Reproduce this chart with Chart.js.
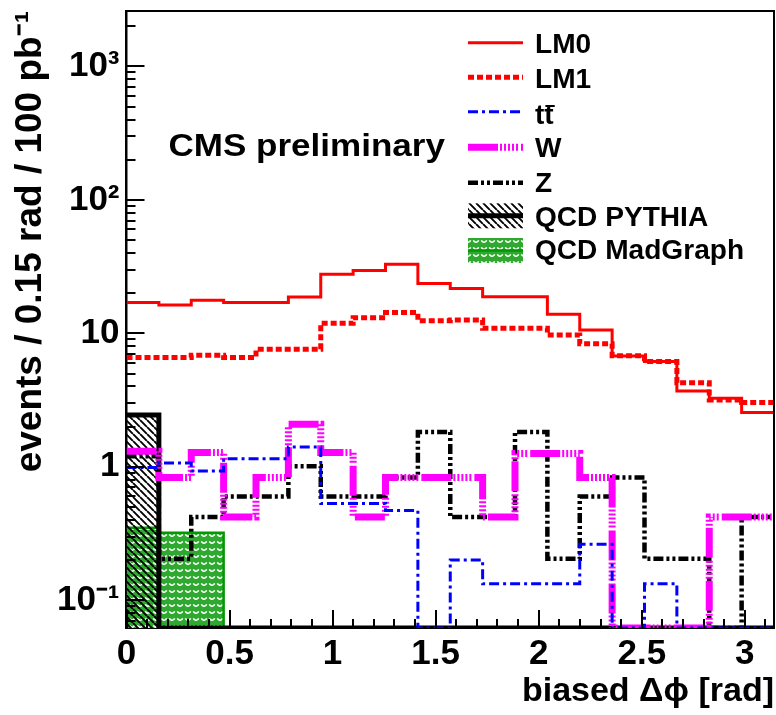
<!DOCTYPE html>
<html>
<head>
<meta charset="utf-8">
<script src="https://cdn.jsdelivr.net/npm/chart.js@4.4.1/dist/chart.umd.min.js"></script>
<style>
html,body{margin:0;padding:0;background:#fff;}
#wrap{width:776px;height:715px;position:relative;}
</style>
</head>
<body>
<div id="wrap"><canvas id="c"></canvas></div>
<script>
// ---------------- data (20 bins of pi/20 rad from 0 to pi) ----------------
const X_MAX = Math.PI;
const lm0       = [17.0, 16.3, 17.7, 17.0, 17.0, 18.7, 27.7, 29.6, 32.9, 23.6, 21.7, 18.8, 18.8, 13.9, 10.6, 6.76, 6.14, 3.70, 3.26, 2.55];
const lm1       = [6.58, 6.58, 6.84, 6.58, 7.59, 7.59, 11.9, 13.1, 14.3, 12.4, 12.6, 10.9, 10.9, 9.71, 8.37, 6.80, 6.14, 4.27, 3.16, 3.03];
const ttbar     = [0.99, 1.07, 0.93, 1.15, 1.15, 1.41, 0.53, 0.53, 0.47, 0, 0.20, 0.133, 0.133, 0.133, 0.263, 0, 0.133, 0, 0, 0];
const wjets     = [1.31, 0.83, 1.28, 0.42, 0.83, 2.08, 1.28, 0.42, 0.83, 0.83, 0.83, 0.42, 1.26, 1.26, 0.83, 0, 0, 0, 0.42, 0.42];
const zjets     = [1.20, 0.205, 0.42, 0.60, 0.60, 1.01, 0.60, 0.60, 0.83, 1.82, 0.42, 0.42, 1.82, 0.205, 0.60, 0.83, 0.205, 0.205, 0, 0.42];
const qcdPythia = [2.44, 0, 0, 0, 0, 0, 0, 0, 0, 0, 0, 0, 0, 0, 0, 0, 0, 0, 0, 0];
const qcdMadgr  = [0.35, 0.32, 0.32, 0, 0, 0, 0, 0, 0, 0, 0, 0, 0, 0, 0, 0, 0, 0, 0, 0];

const seriesNames = ['LM0', 'LM1', 'tt', 'W', 'Z', 'QCD PYTHIA', 'QCD MadGraph'];
const xTickValues = [0, 0.5, 1, 1.5, 2, 2.5, 3];
const xTickLabels = ['0', '0.5', '1', '1.5', '2', '2.5', '3'];
const yTickValues = [0.1, 1, 10, 100, 1000];
const yTickLabels = ['10\u207B\u00B9', '1', '10', '10\u00B2', '10\u00B3'];
const Y_MIN = 0.062, Y_MAX = 2600;

// ---------------- helpers ----------------
const FONT = "'Liberation Sans', Arial, Helvetica, sans-serif";
function steps(vals) {
  const w = X_MAX / vals.length;
  const pts = vals.map((v, i) => ({x: i * w, y: v > 0 ? v : Y_MIN}));
  pts.push({x: X_MAX, y: pts[pts.length - 1].y});
  return pts;
}
function hatchPattern() {
  const c = document.createElement('canvas'); c.width = 7; c.height = 7;
  const g = c.getContext('2d');
  g.strokeStyle = '#000'; g.lineWidth = 1.9;
  g.beginPath();
  for (const k of [-7, 0, 7]) { g.moveTo(k, 0); g.lineTo(k + 7, 7); }
  g.stroke();
  return g.createPattern(c, 'repeat');
}
function scallopPattern() {
  const c = document.createElement('canvas'); c.width = 8; c.height = 7;
  const g = c.getContext('2d');
  g.fillStyle = '#2ea82e'; g.fillRect(0, 0, 8, 7);
  g.strokeStyle = '#ffffff'; g.lineWidth = 1.5;
  g.beginPath(); g.arc(4, 1.5, 2.7, 0.1 * Math.PI, 0.9 * Math.PI); g.stroke();
  return g.createPattern(c, 'repeat');
}
const hatch = hatchPattern();
const scallop = scallopPattern();

const common = {stepped: 'before', pointRadius: 0, pointHoverRadius: 0, tension: 0,
  borderCapStyle: 'butt', borderJoinStyle: 'miter', fill: false};
const datasets = [
  Object.assign({}, common, {label: seriesNames[0], data: steps(lm0), borderColor: '#ff0000', borderWidth: 3, borderDash: []}),
  Object.assign({}, common, {label: seriesNames[1], data: steps(lm1), borderColor: '#ff0000', borderWidth: 5, borderDash: [6, 3]}),
  Object.assign({}, common, {label: seriesNames[2], data: steps(ttbar), borderColor: '#0000ff', borderWidth: 3, borderDash: [10, 4, 3, 4]}),
  Object.assign({}, common, {label: seriesNames[3], data: steps(wjets), borderColor: '#ff00ff', borderWidth: 7, borderDash: [30, 2, 2, 2, 2, 2, 2, 2, 2, 2, 2, 3]}),
  Object.assign({}, common, {label: seriesNames[4], data: steps(zjets), borderColor: '#000000', borderWidth: 4.5, borderDash: [10, 3, 3, 3, 3, 3]}),
  Object.assign({}, common, {label: seriesNames[5], data: steps(qcdPythia), borderColor: '#000000', borderWidth: 5, borderDash: [], backgroundColor: hatch, fill: 'start'}),
  Object.assign({}, common, {label: seriesNames[6], data: steps(qcdMadgr), borderColor: '#009900', borderWidth: 2.5, borderDash: [], backgroundColor: scallop, fill: 'start'})
];

// ---------------- decorations: inner ticks, frame, text, legend ----------------
const decor = {
  id: 'decor',
  afterDraw(chart) {
    const {ctx, chartArea: a, scales: {x, y}} = chart;
    ctx.save();
    ctx.strokeStyle = '#000'; ctx.lineWidth = 2; ctx.setLineDash([]);
    ctx.beginPath();
    ctx.moveTo(a.left, a.top); ctx.lineTo(a.right, a.top); ctx.lineTo(a.right, a.bottom);
    ctx.stroke();
    ctx.beginPath();
    for (let e = Math.floor(Math.log10(y.min)); e <= Math.ceil(Math.log10(y.max)); e++) {
      for (let m = 1; m <= 9; m++) {
        const v = m * Math.pow(10, e);
        if (v < y.min || v > y.max) continue;
        const py = Math.round(y.getPixelForValue(v));
        const len = m === 1 ? 18 : 9;
        ctx.moveTo(a.left, py); ctx.lineTo(a.left + len, py);
      }
    }
    for (let k = 0; k * 0.1 <= x.max + 1e-9; k++) {
      const px = Math.round(x.getPixelForValue(k * 0.1));
      const len = k % 5 === 0 ? 18 : 9;
      ctx.moveTo(px, a.bottom); ctx.lineTo(px, a.bottom - len);
    }
    ctx.stroke();

    ctx.fillStyle = '#000';
    ctx.textBaseline = 'middle'; ctx.textAlign = 'left';
    ctx.save();
    ctx.translate(168.5, 147.5); ctx.scale(1.13, 1);
    ctx.font = 'bold 31px ' + FONT;
    ctx.fillText('CMS preliminary', 0, 0);
    ctx.restore();

    const lineY = [42.7, 77.3, 111.7, 147.3, 182.7, 215.8, 250.5];
    const textY = [45.8, 81, 117, 150, 185, 219, 251.7];
    const x0 = 468, x1 = 523, tx = 535;
    chart.data.datasets.forEach((ds, i) => {
      if (ds.fill === 'start') {
        ctx.fillStyle = ds.backgroundColor;
        ctx.fillRect(x0, lineY[i] - 12.5, x1 - x0, 25);
      }
      ctx.setLineDash(ds.borderDash || []);
      ctx.lineWidth = ds.borderWidth; ctx.strokeStyle = ds.borderColor; ctx.lineCap = 'butt';
      ctx.beginPath(); ctx.moveTo(x0, lineY[i]); ctx.lineTo(x1, lineY[i]); ctx.stroke();
      ctx.setLineDash([]);
      ctx.fillStyle = '#000';
      ctx.font = 'bold 27px ' + FONT;
      ctx.save();
      ctx.translate(tx, textY[i]); ctx.scale(1.04, 1);
      ctx.fillText(ds.label, 0, 0);
      if (ds.label === 'tt') {
        const w1 = ctx.measureText('t').width;
        const w2 = ctx.measureText('tt').width;
        ctx.lineWidth = 2; ctx.strokeStyle = '#000';
        ctx.beginPath(); ctx.moveTo(w1 + 1, -11); ctx.lineTo(w2 + 1, -11); ctx.stroke();
      }
      ctx.restore();
    });
    ctx.restore();
  }
};

const tickFont = {family: FONT, size: 35, weight: 'bold'};
new Chart(document.getElementById('c'), {
  type: 'line',
  data: {datasets},
  options: {
    responsive: true, maintainAspectRatio: false, animation: false,
    devicePixelRatio: 1,
    layout: {padding: {left: 0, right: 2, top: 11, bottom: 0}},
    plugins: {legend: {display: false}, tooltip: {enabled: false}},
    scales: {
      x: {
        type: 'linear', min: 0, max: X_MAX,
        grid: {display: false, drawTicks: false},
        border: {display: true, color: '#000', width: 2},
        afterBuildTicks: s => { s.ticks = xTickValues.map(v => ({value: v})); },
        afterFit: s => { s.height = 87; s.paddingLeft = 0; s.paddingRight = 0; },
        ticks: {autoSkip: false, includeBounds: false, maxRotation: 0, minRotation: 0, padding: 5, color: '#000', font: tickFont,
          callback: (v, i) => xTickLabels[i]},
        title: {display: true, text: 'biased \u0394\u03D5 [rad]', align: 'end', color: '#000',
          font: {family: FONT, size: 34, weight: 'bold'}, padding: {top: 0, bottom: 3}}
      },
      y: {
        type: 'logarithmic', min: Y_MIN, max: Y_MAX,
        grid: {display: false, drawTicks: false},
        border: {display: true, color: '#000', width: 2.5},
        afterBuildTicks: s => { s.ticks = yTickValues.map(v => ({value: v})); },
        afterFit: s => { s.width = 126.5; s.paddingTop = 0; s.paddingBottom = 0; },
        ticks: {autoSkip: false, padding: 7, color: '#000', font: tickFont,
          callback: (v, i) => yTickLabels[i]},
        title: {display: true, text: 'events / 0.15 rad / 100 pb\u207B\u00B9', align: 'end', color: '#000',
          font: {family: FONT, size: 37, weight: 'bold'}, padding: {top: 9, bottom: 0}}
      }
    }
  },
  plugins: [decor]
});
</script>
</body>
</html>
